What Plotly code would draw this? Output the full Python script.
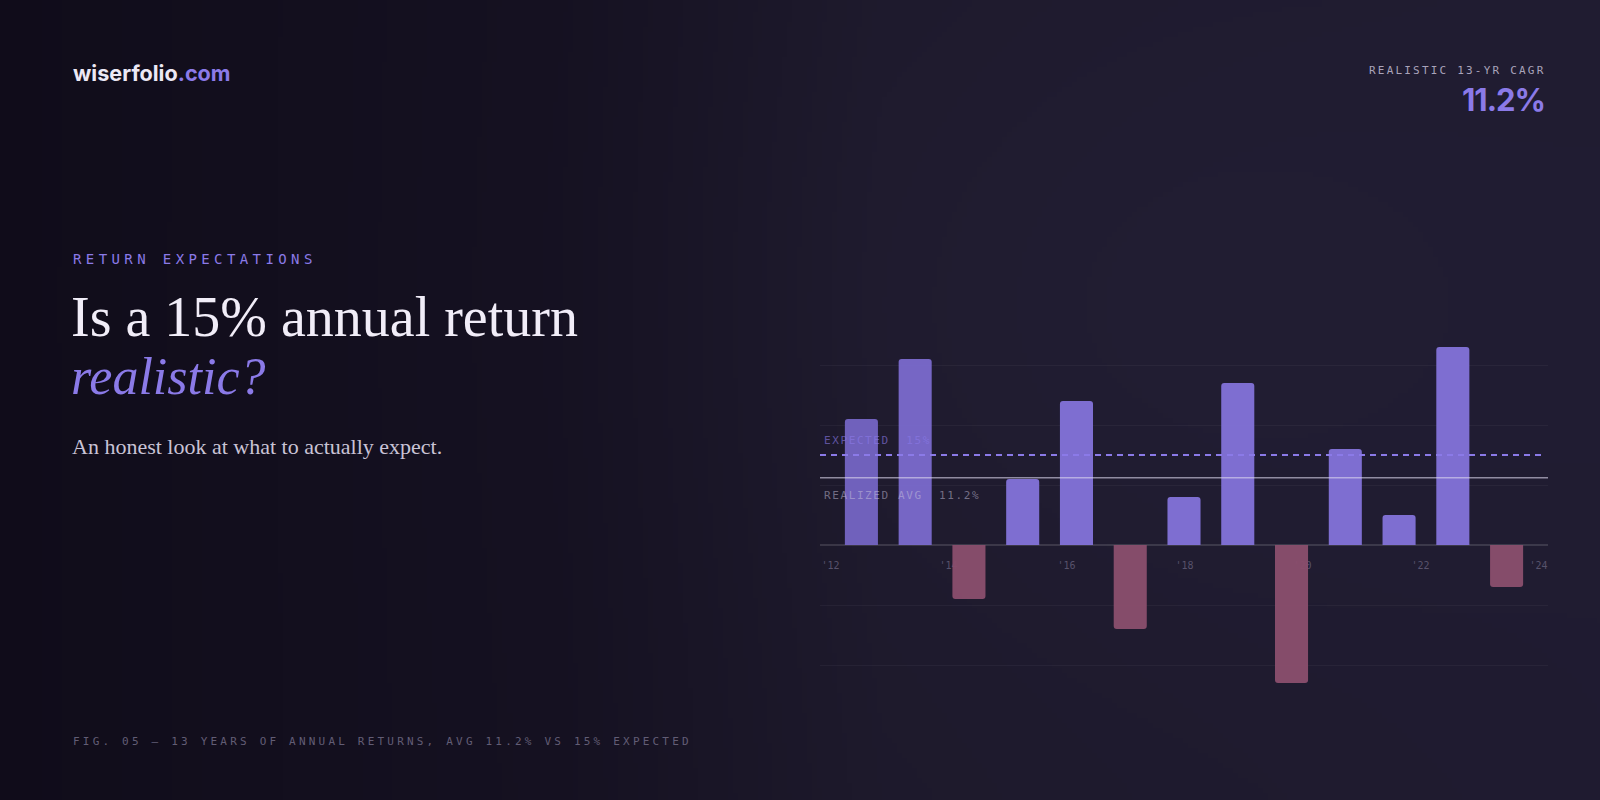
import base64
import math
import struct
import zlib

import plotly.graph_objects as go

# ---------------- data ----------------
years = list(range(2012, 2025))
annual_returns = [21, 31, -9, 11, 24, -14, 8, 27, -23, 16, 5, 33, -7]
expected_return = 15.0
realized_avg = 11.2
cagr_text = "11.2%"
grid_values = [-20, -10, 0, 10, 20, 30]
tick_years = [2012, 2014, 2016, 2018, 2020, 2022, 2024]
tick_labels = ["'12", "'14", "'16", "'18", "'20", "'22", "'24"]

# ---------------- style ----------------
MONO = "DejaVu Sans Mono, Liberation Mono, monospace"
SERIF = "Liberation Serif, DejaVu Serif, serif"
SANS = "Inter, Roboto, sans-serif"
LAV = "#8b7ae8"

POS = "#8272d8"
NEG = "#8a4e6d"
bar_colors = [POS if v >= 0 else NEG for v in annual_returns]
bar_colors[0] = "#7464c2"
bar_colors[1] = "#7a6acc"


def lerp(a, b, t):
    return tuple(a[k] + (b[k] - a[k]) * t for k in range(3))


STOPS = [(0.0, (16, 12, 26)), (0.35, (21, 17, 33)), (0.55, (29, 25, 43)), (1.0, (31, 27, 48))]


def bg_color(u, v):
    for (p0, c0), (p1, c1) in zip(STOPS[:-1], STOPS[1:]):
        if u <= p1:
            c = lerp(c0, c1, (u - p0) / (p1 - p0))
            break
    dx, dy = (u - 0.72) / 0.28, (v - 0.38) / 0.45
    g = math.exp(-(dx * dx + dy * dy))
    c = (c[0] + 3 * g, c[1] + 3 * g, c[2] + 5 * g)
    return tuple(int(max(0, min(255, round(x)))) for x in c)


def png_uri(w, h, fn):
    raw = bytearray()
    for j in range(h):
        raw.append(0)
        for i in range(w):
            raw += bytes(fn(i / (w - 1), j / (h - 1)))

    def chunk(t, d):
        return struct.pack(">I", len(d)) + t + d + struct.pack(">I", zlib.crc32(t + d) & 0xFFFFFFFF)

    png = (b"\x89PNG\r\n\x1a\n" + chunk(b"IHDR", struct.pack(">IIBBBBB", w, h, 8, 2, 0, 0, 0))
           + chunk(b"IDAT", zlib.compress(bytes(raw), 9)) + chunk(b"IEND", b""))
    return "data:image/png;base64," + base64.b64encode(png).decode()


W, H = 1600, 800
X0, X1 = 820, 1548           # plot area px
ZERO_PX = 545
PX_PER_PCT = 6.0
Y_MIN, Y_MAX = -30, 40


def py(px):
    return 1 - px / H


fig = go.Figure()

fig.add_trace(go.Bar(
    x=years, y=annual_returns, width=0.615,
    marker=dict(color=bar_colors, cornerradius=3, line=dict(width=0)),
    opacity=0.96, hoverinfo="skip", showlegend=False,
))
# helper trace so the label axis is drawn
fig.add_trace(go.Scatter(x=tick_years, y=[0] * len(tick_years), xaxis="x2", yaxis="y",
                         mode="markers", marker=dict(opacity=0), hoverinfo="skip", showlegend=False))

y_top_px = ZERO_PX - Y_MAX * PX_PER_PCT
y_bot_px = ZERO_PX - Y_MIN * PX_PER_PCT

fig.update_layout(
    width=W, height=H, autosize=False,
    margin=dict(l=0, r=0, t=0, b=0),
    paper_bgcolor="#16121f", plot_bgcolor="rgba(0,0,0,0)",
    bargap=0.4,
    xaxis=dict(domain=[X0 / W, X1 / W], range=[2011.23, 2024.77], showgrid=False, zeroline=False,
               showticklabels=False, showline=False, ticks="", fixedrange=True),
    xaxis2=dict(domain=[X0 / W, X1 / W], overlaying="x", anchor="free", position=py(ZERO_PX),
                side="bottom", range=[2011.822, 2024.161], tickvals=tick_years, ticktext=tick_labels,
                ticks="outside", ticklen=11, tickcolor="rgba(0,0,0,0)", showgrid=False, zeroline=False,
                showline=False, layer="below traces",
                tickfont=dict(family=MONO, size=10, color="#57526b"), fixedrange=True),
    yaxis=dict(domain=[py(y_bot_px), py(y_top_px)], range=[Y_MIN, Y_MAX], tickvals=grid_values,
               showticklabels=False, gridcolor="rgba(255,255,255,0.045)", gridwidth=1,
               zeroline=True, zerolinecolor="rgba(255,255,255,0.13)", zerolinewidth=1.5,
               showline=False, ticks="", fixedrange=True),
    images=[dict(source=png_uri(320, 160, bg_color), xref="paper", yref="paper", x=0, y=1,
                 sizex=1, sizey=1, sizing="stretch", xanchor="left", yanchor="top", layer="below")],
)

fig.add_shape(type="line", xref="x domain", yref="y", x0=0, x1=0.993, y0=expected_return, y1=expected_return,
              line=dict(color=LAV, width=2, dash="6px,5px"), layer="above")
fig.add_shape(type="line", xref="x domain", yref="y", x0=0, x1=1, y0=realized_avg, y1=realized_avg,
              line=dict(color="rgba(222,216,238,0.6)", width=1.5), layer="above")


def ann(text, x, y, size, color, family, xanchor="left", yanchor="middle", ls=None, weight=None, style=None):
    if ls is not None:
        text = f'<span style="letter-spacing:{ls}px">{text}</span>'
    font = dict(family=family, size=size, color=color)
    if weight:
        font["weight"] = weight
    if style:
        font["style"] = style
    fig.add_annotation(text=text, x=x, y=y, xref="paper", yref="paper", xanchor=xanchor,
                       yanchor=yanchor, showarrow=False, font=font, align=xanchor if xanchor != "center" else "center")


LEFT = 71 / W
ann(f'wiserfolio<span style="color:{LAV}">.com</span>', LEFT, py(73), 21.6, "#ece8f5", SANS, weight=700)
ann("REALISTIC 13-YR CAGR", 1547 / W, py(70), 11, "#a9a3ba", MONO, xanchor="right", ls=2.2)
ann(cagr_text, 1547 / W, py(99), 31, LAV, SANS, xanchor="right", weight=700, ls=-1)

ann("RETURN EXPECTATIONS", LEFT, py(259), 14, LAV, MONO, ls=4.4)
ann("Is a 15% annual return", LEFT - 2 / W, py(317), 56, "#f1edf8", SERIF)
ann("realistic?", LEFT - 2 / W, py(376), 52, LAV, SERIF, style="italic")
ann("An honest look at what to actually expect.", LEFT - 1 / W, py(446), 22, "#c9c3d6", SERIF)
ann("FIG. 05 \u2014 13 YEARS OF ANNUAL RETURNS, AVG 11.2% VS 15% EXPECTED", LEFT, py(741), 11,
    "#625d75", MONO, ls=3.2)

ann("EXPECTED\u00a0\u00a015%", 822 / W, py(440), 11, "rgba(139,122,232,0.62)", MONO, ls=1.6)
ann("REALIZED AVG\u00a0\u00a011.2%", 822 / W, py(495), 11, "rgba(200,194,220,0.5)", MONO, ls=1.6)

fig.write_html("out.html", config={"displayModeBar": False},
               post_script="document.body.style.margin='0';document.body.style.overflow='hidden';")
